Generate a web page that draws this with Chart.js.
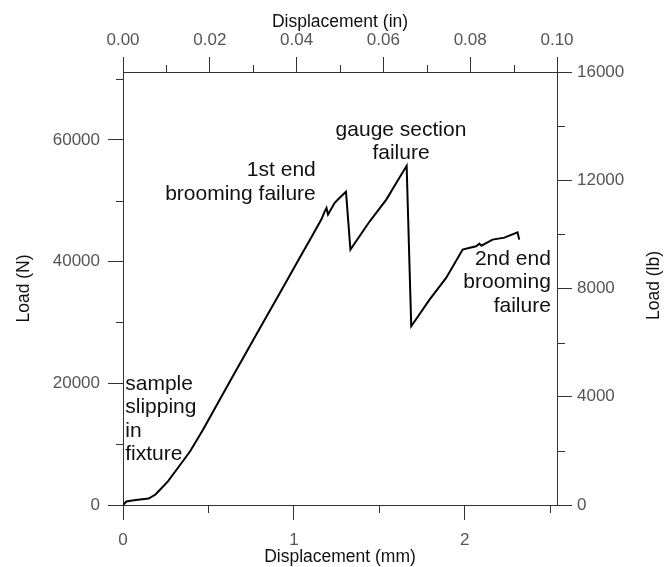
<!DOCTYPE html>
<html>
<head>
<meta charset="utf-8">
<script src="https://cdn.jsdelivr.net/npm/chart.js@4.4.1/dist/chart.umd.min.js"></script>
<style>
  html, body { margin: 0; padding: 0; background: #fff; }
  #wrap { width: 664px; height: 567px; }
</style>
</head>
<body>
<div id="wrap"><canvas id="loadChart" width="664" height="567"></canvas></div>
<script>
// load - displacement curve (mm, N)
const dispMm = [0, 0.02, 0.054, 0.10, 0.15, 0.19, 0.218, 0.264, 0.323, 0.393, 0.469, 0.539,
  0.632, 0.772, 0.938, 1.035, 1.100, 1.162, 1.178, 1.191, 1.200, 1.239, 1.268, 1.305,
  1.331, 1.444, 1.541, 1.600, 1.660,
  1.687, 1.794, 1.891, 1.988, 2.030, 2.067, 2.086, 2.097, 2.163, 2.232, 2.309, 2.319];
const loadN = [0, 575, 740, 900, 1070, 1725, 2550, 3910, 6160, 8840, 12400, 15940,
  20620, 27600, 35830, 40680, 43900, 47000, 48100, 48830, 47730, 49670, 50490, 51500,
  41980, 46630, 50200, 52960, 55750,
  29380, 33760, 37330, 41980, 42270, 42520, 42960, 42630, 43620, 43950, 44820, 43620];

// tick labels
const mmTicks = [0, 1, 2];
const mmMinor = [0.5, 1.5, 2.5];
const inTicks = [0, 0.02, 0.04, 0.06, 0.08, 0.10];
const inMinor = [0.01, 0.03, 0.05, 0.07, 0.09];
const nTicks = [0, 20000, 40000, 60000];
const nMinor = [10000, 30000, 50000, 70000];
const lbTicks = [0, 4000, 8000, 12000, 16000];
const lbMinor = [2000, 6000, 10000, 14000];

// notes on the curve
const notes = [
  { lines: ["sample", "slipping", "in", "fixture"], x: 0.013, y: 18980, align: "left" },
  { lines: ["1st end", "brooming failure"], x: 1.128, y: 54020, align: "right" },
  { lines: ["gauge section", "failure"], x: 1.627, y: 60710, align: "center" },
  { lines: ["2nd end", "brooming", "failure"], x: 2.504, y: 39510, align: "right" }
];

const FAMILY = '"Liberation Sans", Arial, Helvetica, sans-serif';
const axisColor = "#333";
const tickColor = "#555";
const titleColor = "#111";
const tickFont = { family: FAMILY, size: 17 };
const titleFont = { family: FAMILY, size: 17.5 };

const fixedTicks = list => sc => { sc.ticks = list.map(v => ({ value: v })); };

const extras = {
  id: "extras",
  afterDraw(chart) {
    const ctx = chart.ctx;
    const s = chart.scales;
    const a = chart.chartArea;
    ctx.save();
    ctx.strokeStyle = axisColor;
    ctx.lineWidth = 1;
    ctx.beginPath();
    mmMinor.forEach(v => {
      const p = Math.round(s.x.getPixelForValue(v)) + 0.5;
      ctx.moveTo(p, a.bottom); ctx.lineTo(p, a.bottom + 8);
    });
    inMinor.forEach(v => {
      const p = Math.round(s.x2.getPixelForValue(v)) + 0.5;
      ctx.moveTo(p, a.top); ctx.lineTo(p, a.top - 7);
    });
    nMinor.forEach(v => {
      const p = Math.round(s.y.getPixelForValue(v)) + 0.5;
      ctx.moveTo(a.left, p); ctx.lineTo(a.left - 7, p);
    });
    lbMinor.forEach(v => {
      const p = Math.round(s.y2.getPixelForValue(v)) + 0.5;
      ctx.moveTo(a.right, p); ctx.lineTo(a.right + 8, p);
    });
    ctx.stroke();

    // annotations
    ctx.fillStyle = "#111";
    ctx.font = "21px " + FAMILY;
    ctx.textBaseline = "alphabetic";
    notes.forEach(n => {
      ctx.textAlign = n.align;
      const px = s.x.getPixelForValue(n.x);
      const py = s.y.getPixelForValue(n.y);
      n.lines.forEach((t, i) => ctx.fillText(t, px, py + i * 23.5));
    });

    // right axis title, reading bottom to top
    ctx.fillStyle = titleColor;
    ctx.font = "17.5px " + FAMILY;
    ctx.translate(654, (a.top + a.bottom) / 2 - 3);
    ctx.rotate(-Math.PI / 2);
    ctx.textAlign = "center";
    ctx.textBaseline = "middle";
    ctx.fillText("Load (lb)", 0, 0);
    ctx.restore();
  }
};

const gridOpts = { drawOnChartArea: false, tickLength: 15, color: axisColor, lineWidth: 1 };
const borderOpts = { color: axisColor, width: 1 };

new Chart(document.getElementById("loadChart"), {
  type: "line",
  data: {
    datasets: [{
      data: dispMm.map((x, i) => ({ x: x, y: loadN[i] })),
      borderColor: "#000",
      borderWidth: 2,
      pointRadius: 0,
      tension: 0,
      xAxisID: "x",
      yAxisID: "y"
    }]
  },
  options: {
    responsive: false,
    animation: false,
    layout: { padding: 0 },
    plugins: { legend: { display: false }, tooltip: { enabled: false } },
    scales: {
      x: {
        type: "linear", position: "bottom", min: 0, max: 2.54,
        afterBuildTicks: fixedTicks(mmTicks),
        afterFit: sc => { sc.height = 62; },
        grid: gridOpts, border: borderOpts,
        ticks: { padding: 10, color: tickColor, font: tickFont, maxRotation: 0, autoSkip: false, callback: v => String(v) },
        title: { display: true, text: "Displacement (mm)", color: titleColor, font: titleFont, padding: { top: 0, bottom: -1 } }
      },
      x2: {
        type: "linear", position: "top", min: 0, max: 0.1, display: true,
        afterBuildTicks: fixedTicks(inTicks),
        afterFit: sc => { sc.height = 72; },
        grid: gridOpts, border: borderOpts,
        ticks: { padding: 6, color: tickColor, font: tickFont, maxRotation: 0, autoSkip: false, callback: v => v.toFixed(2) },
        title: { display: true, text: "Displacement (in)", color: titleColor, font: titleFont, padding: { top: 12, bottom: 0 } }
      },
      y: {
        type: "linear", position: "left", min: 0, max: 16000 * 4.44822,
        afterBuildTicks: fixedTicks(nTicks),
        afterFit: sc => { sc.width = 123; },
        grid: gridOpts, border: borderOpts,
        ticks: { padding: 8, color: tickColor, font: tickFont, autoSkip: false, callback: v => String(v) },
        title: { display: true, text: "Load (N)", color: titleColor, font: titleFont, padding: { top: 14, bottom: 0 } }
      },
      y2: {
        type: "linear", position: "right", min: 0, max: 16000, display: true,
        afterBuildTicks: fixedTicks(lbTicks),
        afterFit: sc => { sc.width = 107; },
        grid: gridOpts, border: borderOpts,
        ticks: { padding: 5, color: tickColor, font: tickFont, autoSkip: false, callback: v => String(v) },
        title: { display: false }
      }
    }
  },
  plugins: [extras]
});
</script>
</body>
</html>
